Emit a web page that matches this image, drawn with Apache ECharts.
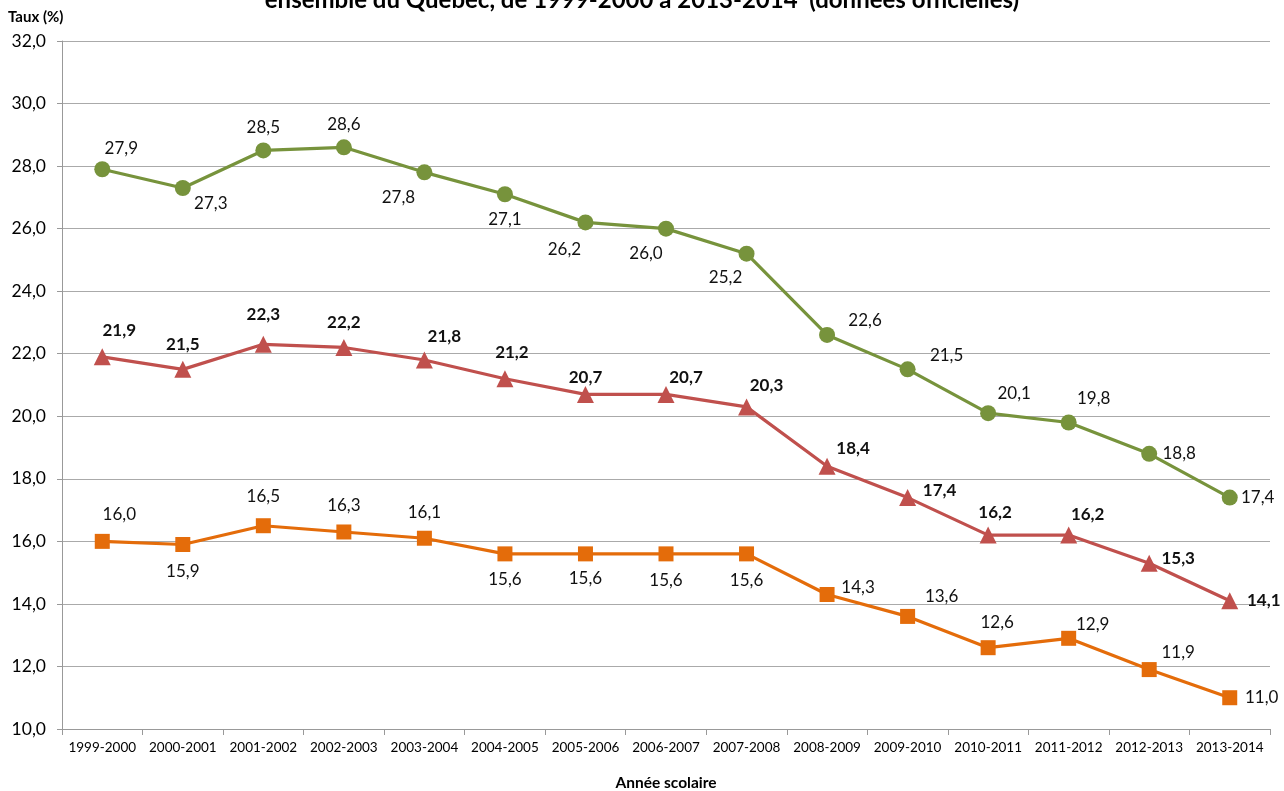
<!DOCTYPE html>
<html><head><meta charset="utf-8">
<script src="https://cdn.jsdelivr.net/npm/echarts@6/dist/echarts.min.js"></script>
<style>html,body{margin:0;padding:0;background:#fff}#c{width:1284px;height:791px}</style>
</head><body><div id="c"></div>
<script>
const categories = ['1999-2000','2000-2001','2001-2002','2002-2003','2003-2004','2004-2005','2005-2006','2006-2007','2007-2008','2008-2009','2009-2010','2010-2011','2011-2012','2012-2013','2013-2014'];
const greenValues = [27.9,27.3,28.5,28.6,27.8,27.1,26.2,26.0,25.2,22.6,21.5,20.1,19.8,18.8,17.4];
const redValues = [21.9,21.5,22.3,22.2,21.8,21.2,20.7,20.7,20.3,18.4,17.4,16.2,16.2,15.3,14.1];
const orangeValues = [16.0,15.9,16.5,16.3,16.1,15.6,15.6,15.6,15.6,14.3,13.6,12.6,12.9,11.9,11.0];
const yTicks = {min:10, max:32, interval:2};

// label offsets (styling)
const greenOff = [[19,-21],[28,16],[0,-23],[0,-23],[-26,25],[0,25],[-21,27],[-20,25],[-21,24],[38,-14],[39,-14],[26,-20],[25,-24],[30,0],[28,0]];
const redOff = [[17,-26],[0,-25],[0,-30],[0,-25],[20,-23],[7,-26],[0,-17],[20,-17],[20,-21],[26,-18],[32,-7],[7,-23],[19,-21],[29,-5],[34,0]];
const orangeOff = [[17,-27],[0,27],[0,-29],[0,-26],[0,-26],[0,26],[0,25],[0,27],[0,27],[31,-7],[34,-20],[9,-25],[24,-14],[29,-17],[32,0]];

const FONT = 'Lato';
const fmt = p => Number(p.value).toFixed(1).replace('.', ',');
function build(vals, offs){ return vals.map((v,i)=>({value:v,label:{offset:offs[i]}})); }
function ser(name, vals, offs, color, symbol, size, bold){
  return {name, type:'line', data: build(vals, offs), symbol, symbolSize:size,
    lineStyle:{color, width:3.2}, itemStyle:{color},
    label:{show:true, position:'inside', formatter:fmt, color:'#111', fontFamily:FONT, fontSize:17, fontWeight: bold?'bold':'normal'},
    emphasis:{disabled:true}, animation:false};
}
const chart = echarts.init(document.getElementById('c'));
chart.setOption({
  backgroundColor:'#fff',
  title:{text:'ensemble du Québec, de 1999-2000 à 2013-2014  (données officielles)', left:'center', top:-17,
    textStyle:{fontFamily:FONT, fontSize:24, fontWeight:'bold', color:'#000'}},
  grid:{left:62, right:14, top:41, bottom:62, containLabel:false, outerBoundsMode:'none'},
  xAxis:{type:'category', data:categories, boundaryGap:true,
    name:'Année scolaire', nameLocation:'middle', nameGap:46,
    nameTextStyle:{fontFamily:FONT, fontSize:15.5, fontWeight:'bold', color:'#000'},
    axisLine:{lineStyle:{color:'#999', width:1}},
    axisTick:{show:true, length:6, lineStyle:{color:'#999'}},
    axisLabel:{fontFamily:FONT, fontSize:13.5, color:'#000', margin:12, interval:0}},
  yAxis:{type:'value', min:yTicks.min, max:yTicks.max, interval:yTicks.interval,
    name:'Taux (%)', nameLocation:'end', nameGap:0,
    nameTextStyle:{fontFamily:FONT, fontSize:15, fontWeight:'bold', color:'#000', align:'left', padding:[0,0,16,-54]},
    axisLine:{show:true, lineStyle:{color:'#999'}},
    axisTick:{show:true, length:5, lineStyle:{color:'#999'}},
    splitLine:{lineStyle:{color:'#aaa', width:1}},
    axisLabel:{fontFamily:FONT, fontSize:17.5, color:'#000', margin:16, formatter:v=>v.toFixed(1).replace('.',',')}},
  series:[
    ser('Vert', greenValues, greenOff, '#77933C', 'circle', 16, false),
    ser('Rouge', redValues, redOff, '#C0504D', 'triangle', 17, true),
    ser('Orange', orangeValues, orangeOff, '#E46C0A', 'rect', 15, false)
  ]
});
</script></body></html>
